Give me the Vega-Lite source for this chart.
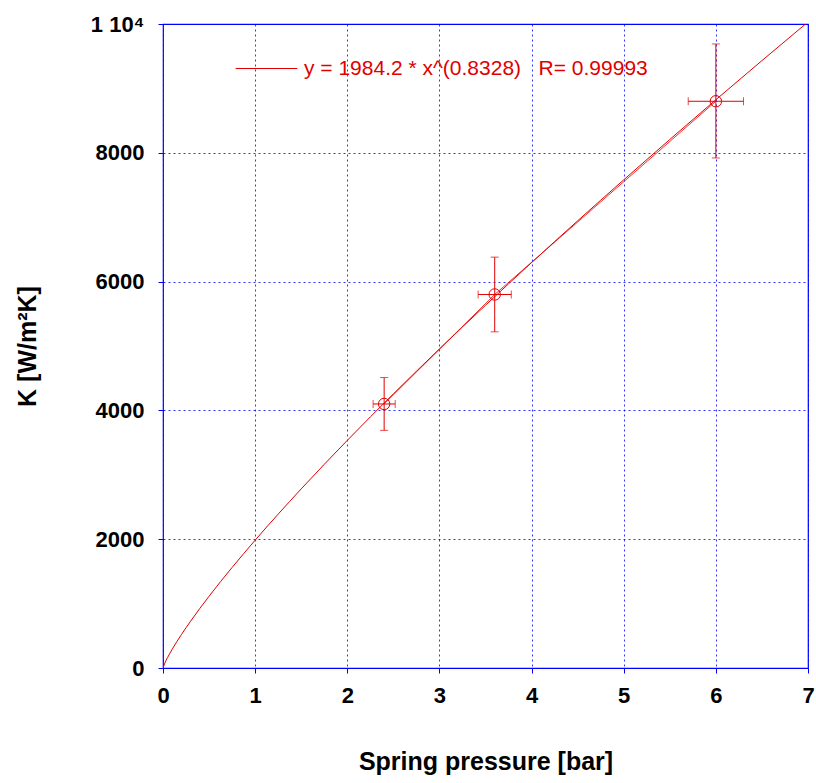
{
  "$schema": "https://vega.github.io/schema/vega-lite/v6.json",
  "width": 645,
  "height": 644,
  "autosize": {"type": "none"},
  "padding": {"left": 163, "top": 24, "right": 8, "bottom": 115},
  "background": "white",
  "config": {
    "font": "Liberation Sans",
    "view": {"stroke": "#0000ff", "strokeWidth": 1.2},
    "axis": {
      "domain": false,
      "ticks": true,
      "tickColor": "#0000ff",
      "tickSize": 5,
      "grid": true,
      "gridColor": "#0000ff",
      "gridDash": [2, 3],
      "gridWidth": 1,
      "gridOpacity": 0.8,
      "labelFont": "Liberation Sans",
      "labelFontWeight": "bold",
      "labelFontSize": 22,
      "labelColor": "black",
      "labelFlush": false,
      "titleFont": "Liberation Sans",
      "titleFontWeight": "bold",
      "titleFontSize": 25,
      "titleColor": "black"
    }
  },
  "datasets": {
    "pts": [
      {"x": 2.4, "y": 4100, "xlo": 2.28, "xhi": 2.52, "ylo": 3690, "yhi": 4510},
      {"x": 3.6, "y": 5800, "xlo": 3.42, "xhi": 3.78, "ylo": 5220, "yhi": 6380},
      {"x": 6.0, "y": 8800, "xlo": 5.7, "xhi": 6.3, "ylo": 7920, "yhi": 9690}
    ],
    "fit": [
      {"x": 0, "y": 0}, {"x": 0.02, "y": 76.3}, {"x": 0.05, "y": 163.7}, {"x": 0.1, "y": 291.6},
      {"x": 0.2, "y": 519.4}, {"x": 0.3, "y": 728.0}, {"x": 0.5, "y": 1114.0}, {"x": 0.75, "y": 1561.5},
      {"x": 1, "y": 1984.2}, {"x": 1.5, "y": 2781.2}, {"x": 2, "y": 3534.3}, {"x": 2.5, "y": 4256.0},
      {"x": 3, "y": 4953.8}, {"x": 3.5, "y": 5632.4}, {"x": 4, "y": 6294.9}, {"x": 4.5, "y": 6943.6},
      {"x": 5, "y": 7580.3}, {"x": 5.5, "y": 8206.6}, {"x": 6, "y": 8823.3}, {"x": 6.5, "y": 9431.4},
      {"x": 7, "y": 10031.8}
    ]
  },
  "layer": [
    {
      "data": {"name": "fit"},
      "transform": [{"calculate": "'y = 1984.2 * x^(0.8328)\u00a0\u00a0\u00a0R= 0.99993'", "as": "series"}],
      "mark": {"type": "line", "strokeWidth": 1, "clip": true, "interpolate": "monotone"},
      "encoding": {
        "x": {"field": "x", "type": "quantitative", "scale": {"domain": [0, 7], "nice": false},
              "axis": {"title": "Spring pressure [bar]", "tickCount": 7, "labelPadding": 12, "titlePadding": 43}},
        "y": {"field": "y", "type": "quantitative", "scale": {"domain": [0, 10000], "nice": false},
              "axis": {"title": "K [W/m²K]", "values": [0, 2000, 4000, 6000, 8000, 10000], "format": "d",
                       "labelExpr": "datum.value == 10000 ? '1 10⁴' : datum.label", "labelPadding": 14, "titlePadding": 50}},
        "color": {"field": "series", "type": "nominal", "scale": {"range": ["#e00000"]},
                  "legend": {"title": null, "orient": "none", "legendX": 72, "legendY": 13, "symbolType": "stroke",
                             "symbolSize": 3800, "symbolStrokeWidth": 1, "labelFontSize": 21, "labelColor": "#e00000",
                             "labelFont": "Liberation Sans", "labelFontWeight": "normal", "labelLimit": 600, "labelOffset": 6,
                             "encode": {"symbols": {"update": {"stroke": {"value": "#e00000"}}}}}}
      }
    },
    {
      "data": {"name": "pts"},
      "mark": {"type": "line", "color": "#e00000", "strokeWidth": 0.8},
      "encoding": {"x": {"field": "x", "type": "quantitative"}, "y": {"field": "y", "type": "quantitative"}}
    },
    {
      "data": {"name": "pts"},
      "mark": {"type": "rule", "color": "#e00000", "strokeWidth": 1},
      "encoding": {"x": {"field": "xlo", "type": "quantitative"}, "x2": {"field": "xhi"}, "y": {"field": "y", "type": "quantitative"}}
    },
    {
      "data": {"name": "pts"},
      "mark": {"type": "rule", "color": "#e00000", "strokeWidth": 1},
      "encoding": {"y": {"field": "ylo", "type": "quantitative"}, "y2": {"field": "yhi"}, "x": {"field": "x", "type": "quantitative"}}
    },
    {
      "data": {"name": "pts"},
      "mark": {"type": "tick", "orient": "horizontal", "color": "#e00000", "size": 8, "thickness": 1},
      "encoding": {"x": {"field": "x", "type": "quantitative"}, "y": {"field": "ylo", "type": "quantitative"}}
    },
    {
      "data": {"name": "pts"},
      "mark": {"type": "tick", "orient": "horizontal", "color": "#e00000", "size": 8, "thickness": 1},
      "encoding": {"x": {"field": "x", "type": "quantitative"}, "y": {"field": "yhi", "type": "quantitative"}}
    },
    {
      "data": {"name": "pts"},
      "mark": {"type": "tick", "orient": "vertical", "color": "#e00000", "size": 8, "thickness": 1},
      "encoding": {"x": {"field": "xlo", "type": "quantitative"}, "y": {"field": "y", "type": "quantitative"}}
    },
    {
      "data": {"name": "pts"},
      "mark": {"type": "tick", "orient": "vertical", "color": "#e00000", "size": 8, "thickness": 1},
      "encoding": {"x": {"field": "xhi", "type": "quantitative"}, "y": {"field": "y", "type": "quantitative"}}
    },
    {
      "data": {"name": "pts"},
      "mark": {"type": "point", "shape": "circle", "filled": false, "color": "#e00000", "size": 130, "strokeWidth": 1, "opacity": 1},
      "encoding": {"x": {"field": "x", "type": "quantitative"}, "y": {"field": "y", "type": "quantitative"}}
    }
  ]
}
